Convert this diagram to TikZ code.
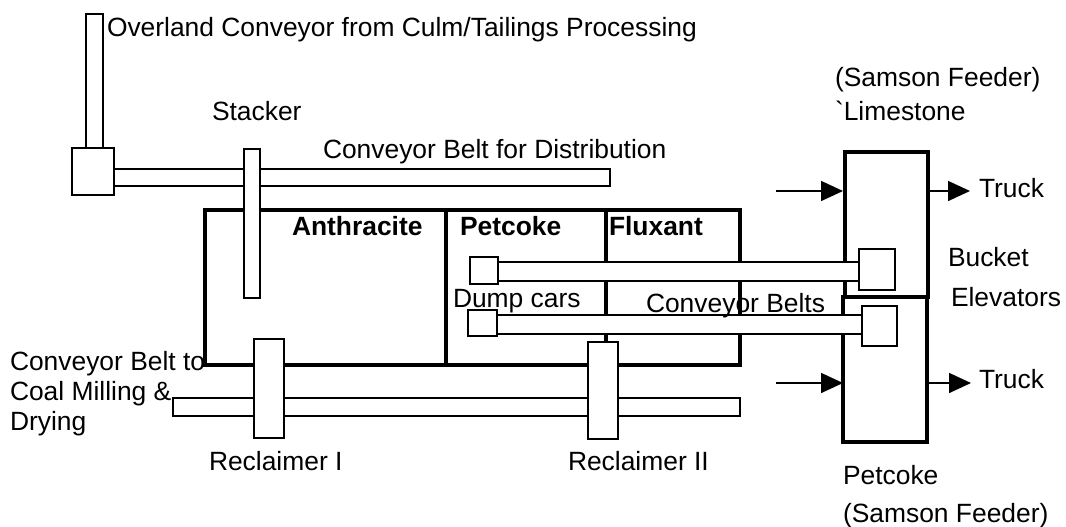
\documentclass[tikz,border=0pt]{standalone}
\usepackage{fontspec}
\setmainfont{Liberation Sans}
\usetikzlibrary{arrows.meta}
\begin{document}
\begin{tikzpicture}[x=1pt,y=-1pt,
  thinbox/.style={draw=black,fill=white,line width=1.6pt,inner sep=0pt,outer sep=0pt},
  thickbox/.style={draw=black,line width=4pt,inner sep=0pt,outer sep=0pt},
  divider/.style={draw=black,line width=4pt},
  lbl/.style={inner sep=0pt,outer sep=0pt,anchor=base west,font=\fontsize{26.4}{30}\selectfont},
  blbl/.style={lbl,font=\fontsize{26.4}{30}\selectfont\bfseries},
  arr/.style={draw=black,line width=1.6pt,-{Triangle[length=22pt,width=20pt]}}]
\useasboundingbox (0,0) rectangle (1066,527);
% bins
\node[thickbox,minimum width=535pt,minimum height=155pt] (bin) at (472.5,287.5) {};
\draw[divider] (446,210) -- (446,365);
\draw[divider] (606,210) -- (606,365);
% feeders
\node[thickbox,minimum width=83pt,minimum height=145pt] (ufeed) at (886.5,224.5) {};
\node[thickbox,minimum width=84pt,minimum height=145pt] (lfeed) at (885,369.5) {};
% overland conveyor and hopper
\node[thinbox,minimum width=17pt,minimum height=134pt] (ovl) at (94.5,81) {};
\node[thinbox,minimum width=496pt,minimum height=17pt] (dist) at (362,177.5) {};
\node[thinbox,minimum width=42pt,minimum height=47pt] (hop) at (93,171.5) {};
\node[thinbox,minimum width=16pt,minimum height=149pt] (stk) at (252,223.5) {};
% dump conveyors
\node[thinbox,minimum width=361pt,minimum height=19pt] (ub) at (678.5,271.5) {};
\node[thinbox,minimum width=28pt,minimum height=27pt] (uds) at (484,270.5) {};
\node[thinbox,minimum width=36pt,minimum height=41pt] (ues) at (877,269.5) {};
\node[thinbox,minimum width=365pt,minimum height=19pt] (lb) at (679.5,324.5) {};
\node[thinbox,minimum width=29pt,minimum height=26pt] (lds) at (482.5,323) {};
\node[thinbox,minimum width=35pt,minimum height=40pt] (les) at (879.5,326) {};
% reclaim belt and reclaimers
\node[thinbox,minimum width=567pt,minimum height=18pt] (rb) at (456.5,407) {};
\node[thinbox,minimum width=30pt,minimum height=99pt] (r1) at (269,388.5) {};
\node[thinbox,minimum width=30pt,minimum height=97pt] (r2) at (603,390.5) {};
% labels
\node[lbl] (tovl) at (107,37) {Overland Conveyor from Culm/Tailings Processing};
\node[lbl] (tstk) at (212,120) {Stacker};
\node[lbl] (tdist) at (323,158) {Conveyor Belt for Distribution};
\node[blbl] (tanth) at (292,235) {Anthracite};
\node[blbl] (tpet) at (460,235) {Petcoke};
\node[blbl] (tflux) at (609,235) {Fluxant};
\node[lbl] (tdump) at (453,307) {Dump cars};
\node[lbl] (tcb) at (646,312) {Conveyor Belts};
\node[lbl] (tsf1) at (835,87) {(Samson Feeder)};
\node[lbl] (tlime) at (835,120) {\textasciigrave Limestone};
\node[lbl] (ttr1) at (979,197) {Truck};
\node[lbl] (ttr2) at (979,388) {Truck};
\node[lbl] (tbuck) at (948,266) {Bucket};
\node[lbl] (telev) at (951,306) {Elevators};
\node[lbl] (tpet2) at (843,484) {Petcoke};
\node[lbl] (tsf2) at (843,522) {(Samson Feeder)};
\node[lbl] (tcb1) at (10,370) {Conveyor Belt to};
\node[lbl] (tcb2) at (10,400) {Coal Milling \&};
\node[lbl] (tcb3) at (10,430) {Drying};
\node[lbl] (trec1) at (209,470) {Reclaimer I};
\node[lbl] (trec2) at (568,470) {Reclaimer II};
% arrows
\coordinate (ua) at (776,191);
\coordinate (la) at (776,383);
\draw[arr] (ua) -- ([xshift=-2pt]ufeed.west |- ua);
\draw[arr] ([xshift=-2pt]ufeed.east |- ua) -- ([xshift=-9pt]ttr1.west |- ua);
\draw[arr] (la) -- ([xshift=0pt]lfeed.west |- la);
\draw[arr] ([xshift=1pt]lfeed.east |- la) -- ([xshift=-8pt]ttr2.west |- la);
\end{tikzpicture}
\end{document}
